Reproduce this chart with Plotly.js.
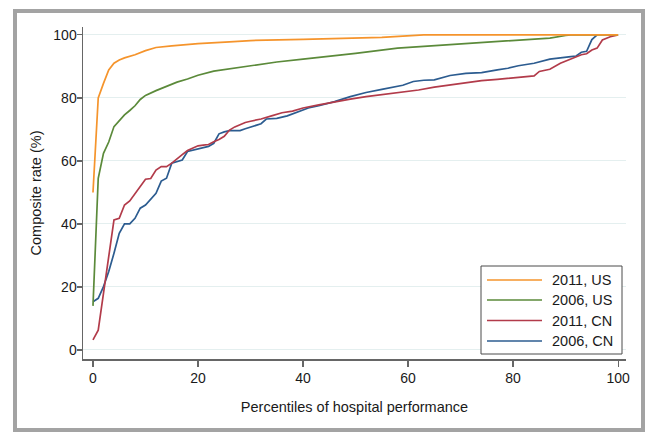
<!DOCTYPE html>
<html>
<head>
<meta charset="utf-8">
<script src="https://cdn.plot.ly/plotly-3.0.1.min.js"></script>
<style>
  html, body { margin: 0; padding: 0; background: #ffffff; }
  #wrap { position: relative; width: 645px; height: 432px; overflow: hidden; }
  #chart { position: absolute; left: 0; top: 0; width: 645px; height: 432px; }
  #frame { position: absolute; left: 13px; top: 9px; width: 632px; height: 423px;
           box-sizing: border-box; border: 4px solid #a3a3a3; pointer-events: none; }
</style>
</head>
<body>
<div id="wrap"><div id="chart"></div><div id="frame"></div></div>
<script>
// Series names (legend order)
const seriesNames = ["2011, US", "2006, US", "2011, CN", "2006, CN"];

// 2011, US
const pctUS2011 = [0, 1, 2, 3, 4, 5, 6, 8, 10, 12, 15, 20, 26, 30, 40, 50, 55, 63, 100];
const rateUS2011 = [50, 80, 84.6, 88.9, 91, 92, 92.7, 93.7, 95, 96, 96.5, 97.2, 97.8, 98.2, 98.6, 99, 99.2, 100, 100];

// 2006, US
const pctUS2006 = [0, 1, 2, 3, 4, 5, 6, 7, 8, 9, 10, 12, 14, 16, 18, 20, 23, 26, 30, 35, 40, 50, 58, 65, 70, 78, 87, 90, 91, 100];
const rateUS2006 = [14, 54.5, 62.4, 66, 70.9, 72.8, 74.6, 76, 77.5, 79.5, 80.8, 82.3, 83.7, 85, 86, 87.2, 88.5, 89.2, 90.3, 91.4, 92.3, 94.1, 95.8, 96.6, 97.2, 97.9, 99, 99.8, 100, 100];

// 2011, CN
const pctCN2011 = [0, 1, 2, 3, 4, 5, 6, 7, 8, 9, 10, 11, 12, 13, 14, 15, 16, 17, 18, 19, 20, 21, 22, 23, 24, 25, 26, 27, 28, 29, 30, 32, 34, 36, 38, 40, 43, 46, 49, 52, 55, 58, 62, 65, 68, 71, 74, 77, 81, 84, 85, 87, 89, 91, 93, 94, 95, 96, 97, 98.5, 100];
const rateCN2011 = [3.2, 6.3, 18, 30, 41.3, 41.8, 46, 47.3, 49.7, 51.9, 54.2, 54.4, 57.1, 58.2, 58.2, 59.3, 60.8, 62, 63.3, 64, 64.8, 65, 65.2, 66.1, 66.8, 67.8, 69.8, 70.8, 71.5, 72.2, 72.6, 73.3, 74.3, 75.3, 75.8, 76.8, 77.8, 78.8, 79.6, 80.4, 81, 81.8, 82.5, 83.4, 84.1, 84.9, 85.5, 85.9, 86.4, 87, 88.4, 89.1, 91, 92.3, 93.7, 94, 95.2, 95.8, 98.4, 99.4, 100];

// 2006, CN
const pctCN2006 = [0, 1, 2, 3, 4, 5, 6, 7, 8, 9, 10, 11, 12, 13, 14, 15, 16, 17, 18, 19, 20, 21, 22, 23, 24, 25, 26, 27, 28, 29, 30, 32, 33, 35, 37, 39, 41, 43, 46, 49, 52, 55, 57, 59, 61, 63, 65, 68, 71, 74, 77, 79, 81, 84, 87, 89, 91, 92, 93, 94, 95, 96];
const rateCN2006 = [15.3, 16.4, 20.1, 24.9, 30.7, 37, 40, 40, 41.8, 45, 46, 47.8, 49.7, 53.6, 54.5, 59.3, 59.8, 60.3, 63, 63.4, 63.7, 64.3, 64.6, 65.6, 68.6, 69.2, 69.6, 69.6, 69.6, 70.2, 70.7, 71.8, 73.3, 73.5, 74.3, 75.5, 76.8, 77.5, 78.8, 80.4, 81.7, 82.7, 83.3, 84, 85.2, 85.6, 85.7, 87.1, 87.8, 88, 88.9, 89.4, 90.2, 91, 92.3, 92.8, 93.1, 93.3, 94.5, 94.8, 98.5, 100];

// Axis ticks
const xTicks = [0, 20, 40, 60, 80, 100];
const yTicks = [0, 20, 40, 60, 80, 100];

const colors = ["#f5942c", "#5b8a3a", "#b23b4a", "#2c5c90"];
const xs = [pctUS2011, pctUS2006, pctCN2011, pctCN2006];
const ys = [rateUS2011, rateUS2006, rateCN2011, rateCN2006];

const drawOrder = [3, 2, 1, 0];
const traces = drawOrder.map(i => ({
  type: "scatter",
  mode: "lines",
  x: xs[i],
  y: ys[i],
  name: seriesNames[i],
  showlegend: false,
  line: { color: colors[i], width: 1.7 },
  hoverinfo: "skip"
}));

const FAM = "Liberation Sans, Arial, sans-serif";
const TXT = "#1a1a1a";

// Plot-area geometry (px) used to place the legend box in paper coordinates
const M = { l: 83, r: 19, t: 27, b: 73 };
const W = 645, H = 432;
const pw = W - M.l - M.r, ph = H - M.t - M.b;
const px2x = p => (p - M.l) / pw;
const py2y = p => (H - M.b - p) / ph;

// Legend (drawn as shapes + annotations, like the Stata legend box)
const legendBox = { left: 481, right: 622, top: 266, bottom: 354 };
const legendRows = [280, 300, 320.5, 341];
const legendLine = { x0: 487, x1: 542, textX: 550 };

const shapes = [{
  type: "rect", xref: "paper", yref: "paper",
  x0: px2x(legendBox.left), x1: px2x(legendBox.right),
  y0: py2y(legendBox.bottom), y1: py2y(legendBox.top),
  line: { color: "#4a4a4a", width: 1 }, fillcolor: "#ffffff", layer: "above"
}];
const annotations = [];
seriesNames.forEach((name, i) => {
  shapes.push({
    type: "line", xref: "paper", yref: "paper",
    x0: px2x(legendLine.x0), x1: px2x(legendLine.x1),
    y0: py2y(legendRows[i]), y1: py2y(legendRows[i]),
    line: { color: colors[i], width: 1.7 }, layer: "above"
  });
  annotations.push({
    xref: "paper", yref: "paper",
    x: px2x(legendLine.textX), y: py2y(legendRows[i]),
    xanchor: "left", yanchor: "middle",
    text: name, showarrow: false,
    font: { family: FAM, size: 14.5, color: TXT }
  });
});

const layout = {
  width: W,
  height: H,
  margin: { l: M.l, r: M.r, t: M.t, b: M.b, pad: 0 },
  paper_bgcolor: "#ffffff",
  plot_bgcolor: "#ffffff",
  font: { family: FAM, size: 14, color: TXT },
  showlegend: false,
  shapes: shapes,
  annotations: annotations,
  xaxis: {
    range: [-1.9, 101.5],
    tickvals: xTicks,
    ticktext: xTicks.map(String),
    ticks: "outside",
    ticklen: 6,
    tickwidth: 1.2,
    tickcolor: "#666666",
    showline: true,
    linecolor: "#666666",
    linewidth: 1.5,
    showgrid: false,
    zeroline: false,
    tickfont: { family: FAM, size: 14, color: TXT },
    title: { text: "Percentiles of hospital performance", font: { family: FAM, size: 14.5, color: TXT }, standoff: 16 },
    automargin: false,
    fixedrange: true
  },
  yaxis: {
    range: [-2.86, 102.5],
    tickvals: yTicks,
    ticktext: yTicks.map(String),
    ticks: "outside",
    ticklen: 5,
    tickwidth: 1.2,
    tickcolor: "#666666",
    ticklabelstandoff: -3,
    showline: true,
    linecolor: "#666666",
    linewidth: 1.5,
    showgrid: true,
    gridcolor: "#e4efef",
    gridwidth: 1,
    zeroline: false,
    tickfont: { family: FAM, size: 14, color: TXT },
    title: { text: "Composite rate (%)", font: { family: FAM, size: 14.5, color: TXT }, standoff: 8 },
    automargin: false,
    fixedrange: true
  }
};

Plotly.newPlot("chart", traces, layout, { staticPlot: true, displayModeBar: false });
</script>
</body>
</html>
